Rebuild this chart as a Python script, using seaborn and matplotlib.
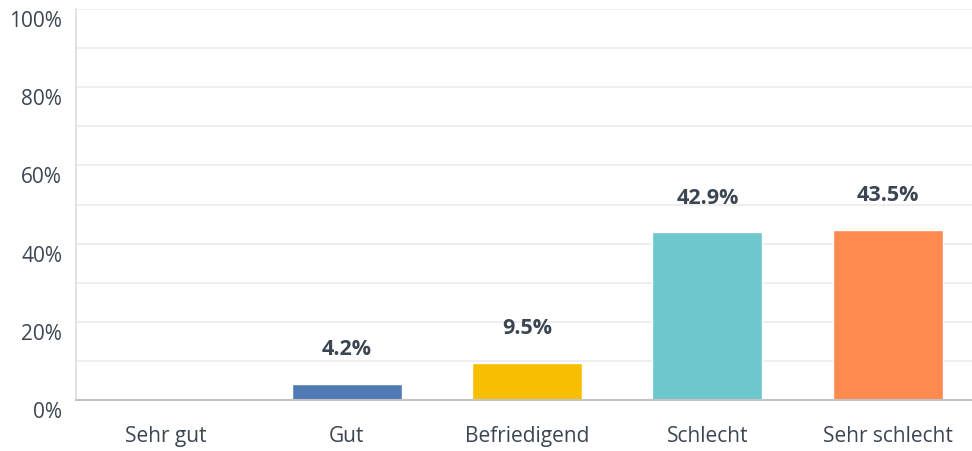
import matplotlib
matplotlib.use("Agg")
import matplotlib.pyplot as plt
import matplotlib.transforms as mtransforms
import numpy as np
import pandas as pd
import seaborn as sns

# Daten
categories = ['Sehr gut', 'Gut', 'Befriedigend', 'Schlecht', 'Sehr schlecht']
values = [0.0, 4.2, 9.5, 42.9, 43.5]
colors = ['#4f7ab3', '#4f7ab3', '#f8be00', '#6cc8cc', '#ff8a4f']
y_ticks = [0, 20, 40, 60, 80, 100]

df = pd.DataFrame({'Kategorie': categories, 'Anteil': values})

sns.set_style('white')
plt.rcParams['font.family'] = ['Open Sans', 'DejaVu Sans']
text_col = '#3b4652'

fig = plt.figure(figsize=(9.72, 4.51), dpi=100)
ax = fig.add_axes([0.0782, 0.113, 0.928, 0.867])

sns.barplot(data=df, x='Kategorie', y='Anteil', hue='Kategorie', palette=colors,
            width=0.61, legend=False, ax=ax, saturation=1)

ax.set_ylim(0, 100)
ax.set_xlim(-0.5, len(categories) - 0.5)
ax.set_yticks(y_ticks)
ax.set_yticks(np.arange(10, 100, 20), minor=True)
ax.set_yticklabels([f'{t}%' for t in y_ticks])
ax.grid(axis='y', which='both', color='#ebebeb', linewidth=1.2)
ax.set_axisbelow(True)
ax.set_xlabel('')
ax.set_ylabel('')

for s in ['top', 'right']:
    ax.spines[s].set_visible(False)
ax.spines['left'].set_color('#dddddd')
ax.spines['left'].set_linewidth(1.2)
ax.spines['bottom'].set_color('#c4c4c4')
ax.spines['bottom'].set_linewidth(1.5)

ax.tick_params(axis='both', which='both', length=0, colors=text_col, labelsize=15)
ax.tick_params(axis='x', pad=19)
ax.tick_params(axis='y', pad=10)

# Beschriftungen der y-Achse etwas unterhalb der Gitterlinie
offset = mtransforms.ScaledTranslation(0, -10 / 100, fig.dpi_scale_trans)
for lab in ax.get_yticklabels():
    lab.set_transform(lab.get_transform() + offset)

for i, v in enumerate(values):
    if v > 0:
        ax.annotate(f'{v}%', (i, v), xytext=(0, 17), textcoords='offset points',
                    ha='center', va='bottom', fontsize=15.5, fontweight='bold',
                    color=text_col)

fig.savefig('out.png', dpi=100)
